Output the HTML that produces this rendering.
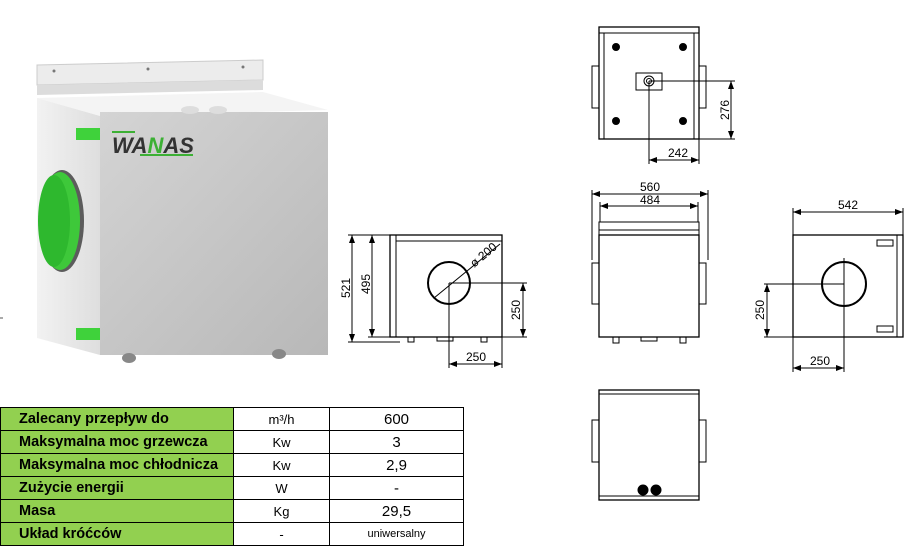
<!DOCTYPE html>
<html><head><meta charset="utf-8"><style>
body{margin:0;background:#fff;width:923px;height:548px;overflow:hidden;font-family:"Liberation Sans",sans-serif}
svg{position:absolute;left:0;top:0}
table{position:absolute;left:0;top:407px;border-collapse:collapse;font-family:"Liberation Sans","DejaVu Sans",sans-serif}
td{border:1px solid #000;height:22px;padding:0;text-align:center;font-size:14px}
td.g{background:#92d050;font-weight:bold;text-align:left;padding-left:18px;width:214px;font-size:14.5px}
td.u{width:95px;font-size:13px}
td.v{width:133px;font-size:15px}
</style></head><body>
<svg width="923" height="548" viewBox="0 0 923 548">
<defs>
<linearGradient id="fr" x1="0" y1="0" x2="1" y2="1"><stop offset="0" stop-color="#d4d4d4"/><stop offset="1" stop-color="#b8b8b8"/></linearGradient>
<linearGradient id="sd" x1="0" y1="0" x2="1" y2="0"><stop offset="0" stop-color="#f2f2f2"/><stop offset="1" stop-color="#dedede"/></linearGradient>
<marker id="a" markerWidth="8" markerHeight="6" refX="8" refY="3" orient="auto-start-reverse"><path d="M0,0 L8,3 L0,6z" fill="#000"/></marker>
</defs>
<!-- photo -->
<polygon points="37,65 263,60 263,80 37,85" fill="#ececec" stroke="#ccc"/>
<polygon points="37,85 263,80 263,90 37,95" fill="#dcdcdc"/>
<circle cx="54" cy="71" r="1.5" fill="#777"/><circle cx="148" cy="69" r="1.5" fill="#777"/><circle cx="243" cy="67" r="1.5" fill="#777"/>
<polygon points="37,98 263,92 328,110 100,116" fill="#f4f4f4"/>
<polygon points="37,98 100,116 100,355 37,338" fill="url(#sd)"/>
<rect x="100" y="112" width="228" height="243" fill="url(#fr)"/>
<ellipse cx="190" cy="110" rx="9" ry="4" fill="#ddd"/><ellipse cx="218" cy="110" rx="9" ry="4" fill="#ddd"/>
<ellipse cx="62" cy="221" rx="22" ry="51" fill="#5c5c5c"/>
<ellipse cx="60" cy="221" rx="20" ry="49" fill="#3ec83a"/>
<ellipse cx="54" cy="221" rx="16" ry="46" fill="#2eb82e"/>
<rect x="76" y="128" width="24" height="12" fill="#3fd23b"/>
<rect x="76" y="328" width="24" height="12" fill="#3fd23b"/>
<ellipse cx="129" cy="358" rx="7" ry="5" fill="#888"/><ellipse cx="279" cy="354" rx="7" ry="5" fill="#888"/>
<line x1="112" y1="132" x2="135" y2="132" stroke="#3cb034" stroke-width="2"/>
<line x1="140" y1="155" x2="193" y2="155" stroke="#3cb034" stroke-width="2"/>
<text x="112" y="153" font-size="22" font-style="italic" font-weight="bold" fill="#333" font-family="Liberation Sans">WA<tspan fill="#3cb034">N</tspan>AS</text>
<line x1="0" y1="318" x2="3" y2="318" stroke="#555"/>
<g fill="none" stroke="#000" stroke-width="1" font-size="11" font-family="Liberation Sans">
<!-- top view -->
<rect x="599" y="27" width="100" height="112" stroke-width="1.3"/>
<line x1="599" y1="33" x2="699" y2="33"/><line x1="604" y1="33" x2="604" y2="139"/><line x1="694" y1="33" x2="694" y2="139"/>
<rect x="592" y="66" width="7" height="42"/><rect x="699" y="66" width="7" height="42"/>
<g fill="#000"><circle cx="616" cy="47" r="3.5"/><circle cx="683" cy="47" r="3.5"/><circle cx="616" cy="121" r="3.5"/><circle cx="683" cy="121" r="3.5"/></g>
<rect x="636" y="73" width="26" height="17"/><circle cx="649" cy="81" r="5"/><circle cx="649" cy="81" r="2.5"/>
<line x1="649" y1="81" x2="735" y2="81"/><line x1="699" y1="139" x2="735" y2="139"/>
<line x1="731" y1="81" x2="731" y2="139" marker-start="url(#a)" marker-end="url(#a)"/>
<line x1="649" y1="81" x2="649" y2="164"/><line x1="699" y1="139" x2="699" y2="164"/>
<line x1="649" y1="160" x2="699" y2="160" marker-start="url(#a)" marker-end="url(#a)"/>
<!-- front view -->
<rect x="599" y="222" width="100" height="13"/><line x1="599" y1="230" x2="699" y2="230"/>
<rect x="599" y="235" width="100" height="102" stroke-width="1.3"/>
<rect x="592" y="263" width="7" height="41"/><rect x="699" y="263" width="7" height="41"/>
<rect x="613" y="337" width="6" height="6"/><rect x="641" y="337" width="16" height="4"/><rect x="680" y="337" width="6" height="6"/>
<line x1="592" y1="190" x2="592" y2="260"/><line x1="708" y1="190" x2="708" y2="260"/>
<line x1="592" y1="194" x2="708" y2="194" marker-start="url(#a)" marker-end="url(#a)"/>
<line x1="600" y1="206" x2="698" y2="206" marker-start="url(#a)" marker-end="url(#a)"/>
<line x1="600" y1="202" x2="600" y2="222"/><line x1="698" y1="202" x2="698" y2="222"/>
<!-- right view -->
<rect x="793" y="235" width="110" height="102" stroke-width="1.3"/>
<line x1="897" y1="235" x2="897" y2="337"/>
<circle cx="844" cy="284" r="22" stroke-width="2"/>
<rect x="877" y="240" width="16" height="6"/><rect x="877" y="326" width="16" height="6"/>
<line x1="793" y1="208" x2="793" y2="235"/><line x1="903" y1="208" x2="903" y2="235"/>
<line x1="793" y1="212" x2="903" y2="212" marker-start="url(#a)" marker-end="url(#a)"/>
<line x1="764" y1="284" x2="844" y2="284"/><line x1="764" y1="337" x2="793" y2="337"/>
<line x1="767" y1="284" x2="767" y2="337" marker-start="url(#a)" marker-end="url(#a)"/>
<line x1="844" y1="258" x2="844" y2="372"/><line x1="793" y1="337" x2="793" y2="372"/>
<line x1="793" y1="368" x2="844" y2="368" marker-start="url(#a)" marker-end="url(#a)"/>
<!-- left view -->
<rect x="390" y="235" width="112" height="102" stroke-width="1.3"/>
<line x1="396" y1="235" x2="396" y2="337"/><line x1="396" y1="241" x2="502" y2="241"/>
<circle cx="449" cy="283" r="21" stroke-width="2"/>
<line x1="434" y1="298" x2="500" y2="244"/>
<line x1="449" y1="283" x2="527" y2="283"/><line x1="502" y1="337" x2="527" y2="337"/>
<line x1="523" y1="283" x2="523" y2="337" marker-start="url(#a)" marker-end="url(#a)"/>
<line x1="348" y1="235" x2="390" y2="235"/><line x1="348" y1="342" x2="400" y2="342"/><line x1="368" y1="337" x2="390" y2="337"/>
<line x1="352" y1="235" x2="352" y2="342" marker-start="url(#a)" marker-end="url(#a)"/>
<line x1="372" y1="235" x2="372" y2="337" marker-start="url(#a)" marker-end="url(#a)"/>
<rect x="408" y="337" width="6" height="5"/><rect x="437" y="337" width="16" height="4"/><rect x="481" y="337" width="6" height="5"/>
<line x1="449" y1="283" x2="449" y2="368"/><line x1="502" y1="337" x2="502" y2="368"/>
<line x1="449" y1="364" x2="502" y2="364" marker-start="url(#a)" marker-end="url(#a)"/>
<!-- bottom view -->
<rect x="599" y="390" width="100" height="110" stroke-width="1.3"/>
<line x1="599" y1="394" x2="699" y2="394"/><line x1="599" y1="496" x2="699" y2="496"/>
<rect x="592" y="420" width="7" height="42"/><rect x="699" y="420" width="7" height="42"/>
<g fill="#000"><circle cx="643" cy="490" r="5"/><circle cx="656" cy="490" r="5"/></g>
</g>
<g font-family="Liberation Sans" font-size="12" fill="#000">
<text x="729" y="110" transform="rotate(-90 729 110)" text-anchor="middle">276</text>
<text x="678" y="157" text-anchor="middle">242</text>
<text x="650" y="191" text-anchor="middle">560</text>
<text x="650" y="204" text-anchor="middle">484</text>
<text x="848" y="209" text-anchor="middle">542</text>
<text x="764" y="310" transform="rotate(-90 764 310)" text-anchor="middle">250</text>
<text x="820" y="365" text-anchor="middle">250</text>
<text x="350" y="288" transform="rotate(-90 350 288)" text-anchor="middle">521</text>
<text x="370" y="284" transform="rotate(-90 370 284)" text-anchor="middle">495</text>
<text x="520" y="310" transform="rotate(-90 520 310)" text-anchor="middle">250</text>
<text x="476" y="361" text-anchor="middle">250</text>
<text x="486" y="258" transform="rotate(-40 486 258)" text-anchor="middle">ø 200</text>
</g>
</svg>
<table>
<tr><td class="g">Zalecany przepływ do</td><td class="u">m³/h</td><td class="v">600</td></tr>
<tr><td class="g">Maksymalna moc grzewcza</td><td class="u">Kw</td><td class="v">3</td></tr>
<tr><td class="g">Maksymalna moc chłodnicza</td><td class="u">Kw</td><td class="v">2,9</td></tr>
<tr><td class="g">Zużycie energii</td><td class="u">W</td><td class="v">-</td></tr>
<tr><td class="g">Masa</td><td class="u">Kg</td><td class="v">29,5</td></tr>
<tr><td class="g">Układ króćców</td><td class="u">-</td><td class="v" style="font-size:11px">uniwersalny</td></tr>
</table>
</body></html>
